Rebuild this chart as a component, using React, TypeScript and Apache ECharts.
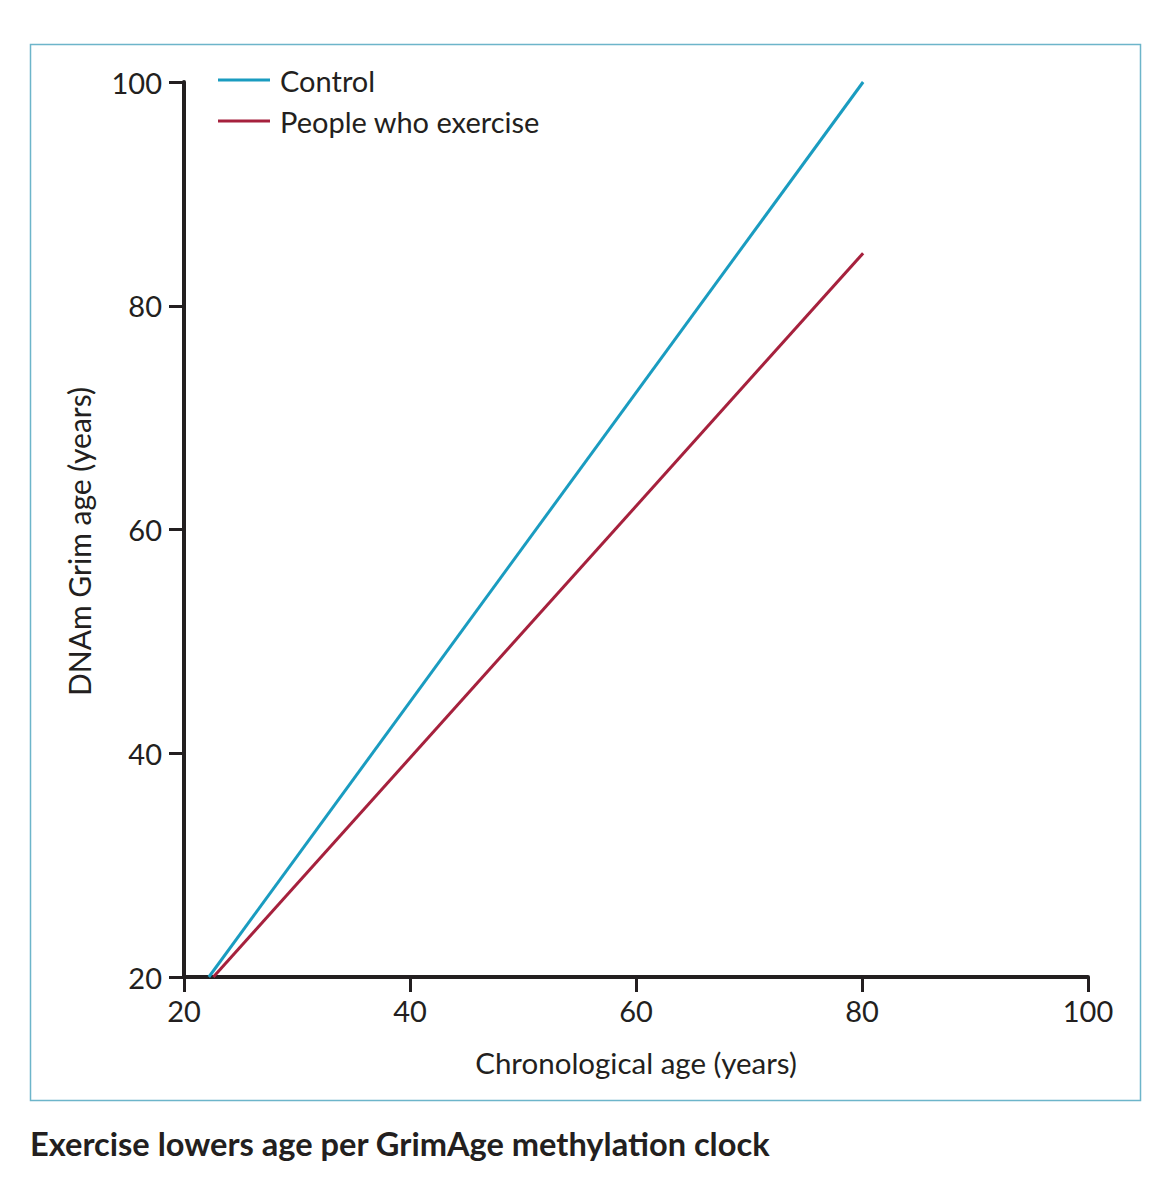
import React, { useEffect, useRef } from "react";
import * as echarts from "echarts";

const seriesNames = ["Control", "People who exercise"];
const controlX = [22.2, 80.1];
const controlY = [20, 100];
const exerciseX = [22.6, 80.1];
const exerciseY = [20, 84.7];
const xTicks = [20, 40, 60, 80, 100];
const yTicks = [20, 40, 60, 80, 100];
const colors = ["#1a9cc0", "#a6213d"];
const FONT = "Lato";

export default function App() {
  const ref = useRef<HTMLDivElement>(null);
  useEffect(() => {
    const chart = echarts.init(ref.current!, null, { renderer: "svg" });
    const toPairs = (xs: number[], ys: number[]) => xs.map((x, i) => [x, ys[i]]);
    chart.setOption({
      animation: false,
      backgroundColor: "#ffffff",
      textStyle: { fontFamily: FONT },
      title: {
        text: "Exercise lowers age per GrimAge methylation clock",
        left: 25,
        top: 1122,
        textStyle: { fontFamily: FONT, fontSize: 32.6, fontWeight: "bold", color: "#231f20" },
      },
      graphic: [
        {
          type: "rect",
          shape: { x: 30.5, y: 44.5, width: 1110, height: 1056 },
          style: { fill: "none", stroke: "#6db5ca", lineWidth: 1.5 },
          silent: true,
        },
      ],
      legend: {
        orient: "vertical",
        left: 213,
        top: 60,
        icon: "rect",
        itemWidth: 52,
        itemHeight: 3,
        itemGap: 11,
        textStyle: { fontFamily: FONT, fontSize: 29, color: "#231f20", lineHeight: 30, padding: [0, 0, 0, 5] },
        data: seriesNames,
      },
      grid: { left: 184, right: 76, top: 82, bottom: 223, containLabel: false },
      xAxis: {
        type: "value",
        min: xTicks[0],
        max: xTicks[xTicks.length - 1],
        interval: 20,
        name: "Chronological age (years)",
        nameLocation: "middle",
        nameGap: 70,
        nameTextStyle: { fontFamily: FONT, fontSize: 29.5, color: "#231f20" },
        axisLine: { lineStyle: { color: "#231f20", width: 4 } },
        axisTick: { show: true, length: 15, lineStyle: { color: "#231f20", width: 3 } },
        axisLabel: { margin: 19, fontFamily: FONT, fontSize: 29, color: "#231f20" },
        splitLine: { show: false },
      },
      yAxis: {
        type: "value",
        min: yTicks[0],
        max: yTicks[yTicks.length - 1],
        interval: 20,
        name: "DNAm Grim age (years)",
        nameLocation: "middle",
        nameGap: 90,
        nameTextStyle: { fontFamily: FONT, fontSize: 30, color: "#231f20", padding: [0, 24, 0, 0] },
        axisLine: { lineStyle: { color: "#231f20", width: 4 } },
        axisTick: { show: true, length: 15, lineStyle: { color: "#231f20", width: 3 } },
        axisLabel: { margin: 22, fontFamily: FONT, fontSize: 29, color: "#231f20" },
        splitLine: { show: false },
      },
      series: [
        {
          name: seriesNames[0],
          type: "line",
          data: toPairs(controlX, controlY),
          showSymbol: false,
          symbol: "none",
          lineStyle: { color: colors[0], width: 3 },
          itemStyle: { color: colors[0] },
          z: 3,
        },
        {
          name: seriesNames[1],
          type: "line",
          data: toPairs(exerciseX, exerciseY),
          showSymbol: false,
          symbol: "none",
          lineStyle: { color: colors[1], width: 3 },
          itemStyle: { color: colors[1] },
          z: 3,
        },
      ],
    });
    return () => chart.dispose();
  }, []);
  return (
    <div style={{ position: "absolute", left: 0, top: 0, width: 1164, height: 1200, background: "#fff" }}>
      <div ref={ref} style={{ width: 1164, height: 1200 }} />
    </div>
  );
}
